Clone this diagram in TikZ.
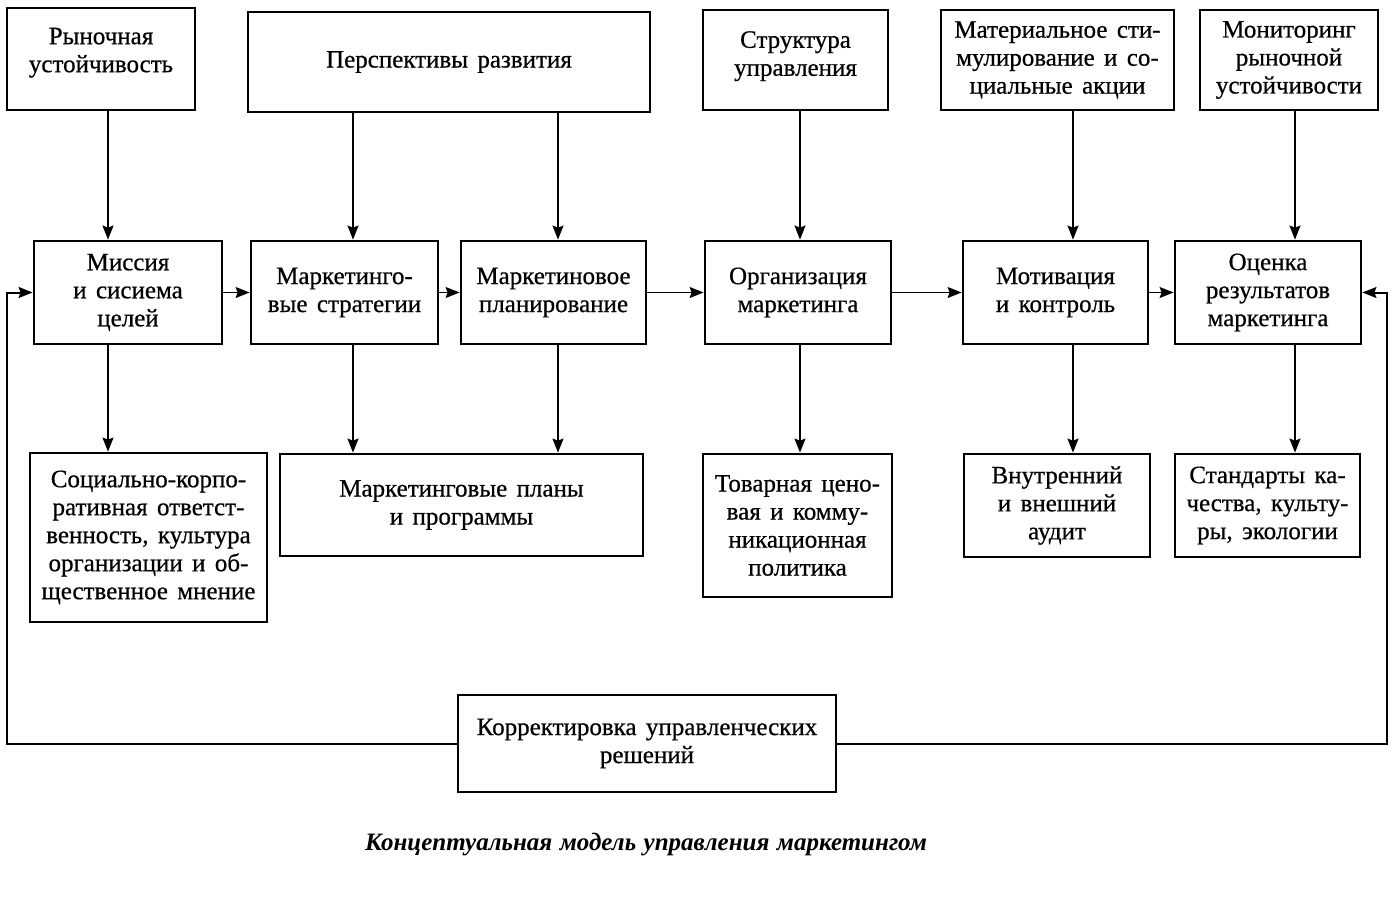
\documentclass[tikz,border=0pt]{standalone}
\usepackage{fontspec}
\setmainfont{Liberation Serif}[WordSpace=1.5, FakeBold=0.6]
\newfontfamily\capfont{Liberation Serif}[WordSpace=1.2]
\usetikzlibrary{arrows.meta}
\begin{document}
\begin{tikzpicture}[x=1pt,y=-1pt,
  box/.style={draw, line width=2.8pt, inner sep=0pt, align=center,
    font=\fontsize{25}{28}\selectfont},
  arr/.style={line width=1.4pt, -{Stealth[length=14pt,width=11pt,inset=2pt]}},
  fb/.style={line width=2pt, -{Stealth[length=14pt,width=11pt,inset=2pt]}}]
\useasboundingbox (0,0) rectangle (1398,904);
% top row
\node[box, minimum width=188pt, minimum height=102pt] (r1) at (101,59) {Рыночная\\устойчивость\vphantom{p}\\[-10pt]};
\node[box, minimum width=402pt, minimum height=100pt] (r2) at (449,62) {Перспективы развития};
\node[box, minimum width=185pt, minimum height=100pt] (r3) at (795.5,60) {Структура\\управления\\[-15pt]};
\node[box, minimum width=233pt, minimum height=100pt] (r4) at (1057.5,60) {Материальное сти-\\мулирование и со-\\циальные акции\\[-23pt]};
\node[box, minimum width=178pt, minimum height=100pt] (r5) at (1289,60) {Мониторинг\\рыночной\\устойчивости};
% middle row
\node[box, minimum width=188pt, minimum height=103pt] (m1) at (128,292.5) {Миссия\\и сисиема\\целей};
\node[box, minimum width=187pt, minimum height=103pt] (m2) at (344.5,292.5) {Маркетинго-\\вые стратегии};
\node[box, minimum width=185pt, minimum height=103pt] (m3) at (553.5,292.5) {Маркетиновое\\планирование};
\node[box, minimum width=186pt, minimum height=103pt] (m4) at (798,292.5) {Организация\\маркетинга};
\node[box, minimum width=185pt, minimum height=103pt] (m5) at (1055.5,292.5) {Мотивация\\и контроль};
\node[box, minimum width=186pt, minimum height=103pt] (m6) at (1268,292.5) {Оценка\\результатов\\маркетинга};
% bottom row
\node[box, minimum width=237pt, minimum height=169pt] (b1) at (148.5,537.5) {Социально-корпо-\\ративная ответст-\\венность, культура\\организации и об-\\щественное мнение};
\node[box, minimum width=363pt, minimum height=102pt] (b2) at (461.5,505) {Маркетинговые планы\\и программы};
\node[box, minimum width=189pt, minimum height=143pt] (b3) at (797.5,525.5) {Товарная цено-\\вая и комму-\\никационная\\политика};
\node[box, minimum width=186pt, minimum height=103pt] (b4) at (1057,505.5) {Внутренний\\и внешний\\аудит};
\node[box, minimum width=185pt, minimum height=103pt] (b5) at (1267.5,505.5) {Стандарты ка-\\чества, культу-\\ры, экологии};
% feedback box
\node[box, minimum width=378pt, minimum height=97pt] (k) at (647,743.5) {Корректировка управленческих\\решений};
% caption
\node[font=\fontsize{25}{28}\capfont\bfseries\itshape] (cap) at (646,845) {Концептуальная модель управления маркетингом};
% column coordinates
\coordinate (x1) at (108,0);
\coordinate (x2) at (353,0);
\coordinate (x3) at (558,0);
\coordinate (x4) at (800,0);
\coordinate (x5) at (1073,0);
\coordinate (x6) at (1295,0);
\coordinate (xl) at (7,0);
\coordinate (xr) at (1387,0);
% top to middle
\draw[arr] (r1.south -| x1) -- (m1.north -| x1);
\draw[arr] (r2.south -| x2) -- (m2.north -| x2);
\draw[arr] (r2.south -| x3) -- (m3.north -| x3);
\draw[arr] (r3.south -| x4) -- (m4.north -| x4);
\draw[arr] (r4.south -| x5) -- (m5.north -| x5);
\draw[arr] (r5.south -| x6) -- (m6.north -| x6);
% middle to bottom
\draw[arr] (m1.south -| x1) -- (b1.north -| x1);
\draw[arr] (m2.south -| x2) -- (b2.north -| x2);
\draw[arr] (m3.south -| x3) -- (b2.north -| x3);
\draw[arr] (m4.south -| x4) -- (b3.north -| x4);
\draw[arr] (m5.south -| x5) -- (b4.north -| x5);
\draw[arr] (m6.south -| x6) -- (b5.north -| x6);
% horizontal chain
\draw[arr] (m1.east) -- (m2.west);
\draw[arr] (m2.east) -- (m3.west);
\draw[arr] (m3.east) -- (m4.west);
\draw[arr] (m4.east) -- (m5.west);
\draw[arr] (m5.east) -- (m6.west);
% feedback
\draw[fb] (k.west) -| (xl |- m1.west) -- (m1.west);
\draw[fb] (k.east) -| (xr |- m6.east) -- (m6.east);
\end{tikzpicture}
\end{document}
